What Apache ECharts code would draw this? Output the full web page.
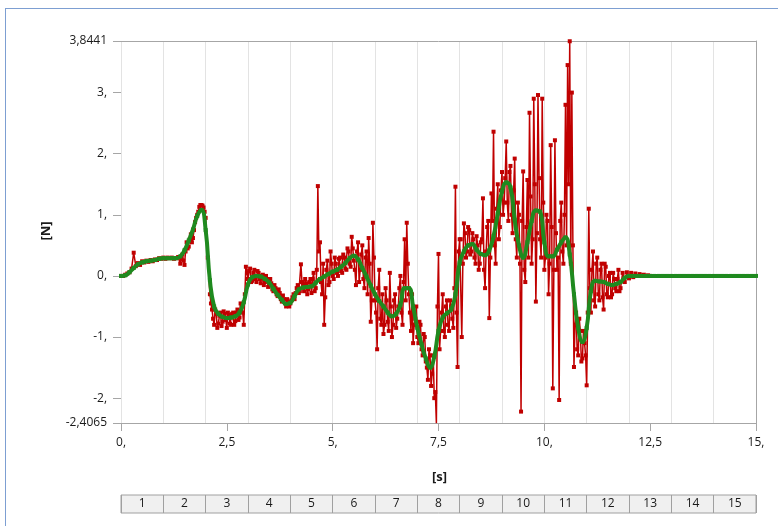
<!DOCTYPE html>
<html>
<head>
<meta charset="utf-8">
<script src="https://cdn.jsdelivr.net/npm/echarts@6/dist/echarts.min.js"></script>
<style>
html,body{margin:0;padding:0;background:#fff;}
#frame{position:absolute;left:5px;top:8px;width:800px;height:600px;border-left:1px solid #7d9fd2;border-top:1px solid #7d9fd2;}
#chart{position:absolute;left:0;top:0;width:778px;height:526px;}
</style>
</head>
<body>
<div id="frame"></div>
<div id="chart"></div>
<script>
// ---- data ----
const yTickValues = [-2.4065, -2, -1, 0, 1, 2, 3, 3.8441];
const xTickValues = [0, 2.5, 5, 7.5, 10, 12.5, 15];
const stepCells = ['1','2','3','4','5','6','7','8','9','10','11','12','13','14','15'];

// raw force [time s, force N]
const redPoints = [
[0.00,0.00],[0.05,0.00],[0.10,0.02],[0.15,0.04],[0.20,0.06],[0.25,0.12],[0.30,0.38],[0.35,0.16],[0.40,0.21],[0.45,0.18],
[0.50,0.24],[0.55,0.22],[0.60,0.25],[0.65,0.23],[0.70,0.26],[0.75,0.24],[0.80,0.27],[0.85,0.26],[0.90,0.29],[0.95,0.28],
[1.00,0.30],[1.05,0.28],[1.10,0.30],[1.15,0.29],[1.20,0.30],[1.25,0.28],[1.30,0.29],[1.35,0.31],[1.40,0.20],[1.45,0.35],
[1.50,0.18],[1.55,0.55],[1.60,0.48],[1.65,0.68],[1.70,0.62],[1.75,0.88],[1.80,1.00],[1.85,1.13],[1.90,1.16],[1.95,1.12],
[2.00,0.95],[2.05,0.30],[2.10,-0.30],[2.15,-0.55],[2.20,-0.80],[2.25,-0.62],[2.30,-0.78],[2.35,-0.60],[2.40,-0.75],[2.45,-0.62],
[2.50,-0.85],[2.55,-0.64],[2.60,-0.80],[2.65,-0.60],[2.70,-0.74],[2.75,-0.55],[2.80,-0.68],[2.85,-0.50],[2.90,-0.80],[2.95,0.15],
[3.00,-0.05],[3.05,0.12],[3.10,-0.08],[3.15,0.10],[3.20,-0.10],[3.25,0.05],[3.30,-0.12],[3.35,0.02],[3.40,-0.10],[3.45,-0.05],
[3.50,-0.15],[3.55,-0.12],[3.60,-0.25],[3.65,-0.20],[3.70,-0.33],[3.75,-0.28],[3.80,-0.42],[3.85,-0.38],[3.90,-0.50],[3.95,-0.42],
[4.00,-0.45],[4.05,-0.35],[4.10,-0.38],[4.15,-0.20],[4.20,-0.28],[4.25,0.19],[4.30,-0.15],[4.35,-0.05],[4.40,-0.30],[4.45,-0.10],
[4.50,-0.28],[4.55,0.05],[4.60,-0.20],[4.65,1.47],[4.70,0.55],[4.75,-0.30],[4.80,-0.80],[4.85,0.10],[4.90,-0.15],[4.95,0.40],
[5.00,0.00],[5.05,0.30],[5.10,0.05],[5.15,0.28],[5.20,0.08],[5.25,0.35],[5.30,0.12],[5.35,0.45],[5.40,0.20],[5.45,0.64],
[5.50,0.25],[5.55,-0.15],[5.60,0.55],[5.65,0.10],[5.70,0.50],[5.75,-0.20],[5.80,0.40],[5.85,0.62],[5.90,-0.75],[5.95,0.87],
[6.00,-0.40],[6.05,-1.20],[6.10,0.10],[6.15,-0.80],[6.20,-0.95],[6.25,-0.20],[6.30,-0.75],[6.35,0.05],[6.40,-1.00],[6.45,-0.40],
[6.50,-0.85],[6.55,-0.50],[6.60,0.00],[6.65,-0.80],[6.70,0.60],[6.75,0.87],[6.80,-0.30],[6.85,-0.90],[6.90,-1.10],[6.95,-0.70],
[7.00,-1.00],[7.05,-0.75],[7.10,-1.20],[7.15,-0.95],[7.20,-1.40],[7.25,-1.70],[7.30,-1.30],[7.35,-1.60],[7.40,-2.00],[7.45,-2.41],
[7.50,0.36],[7.55,-0.90],[7.60,-0.30],[7.65,-1.00],[7.70,-0.40],[7.75,-0.90],[7.80,-0.50],[7.85,-0.85],[7.90,1.46],[7.95,-1.49],
[8.00,0.60],[8.05,-1.00],[8.10,0.86],[8.15,0.30],[8.20,0.80],[8.25,0.35],[8.30,0.70],[8.35,0.30],[8.40,0.65],[8.45,0.10],
[8.50,0.55],[8.55,1.27],[8.60,-0.20],[8.65,0.80],[8.70,-0.69],[8.75,1.35],[8.80,2.36],[8.85,0.20],[8.90,1.50],[8.95,0.80],
[9.00,1.70],[9.05,1.20],[9.10,2.20],[9.15,0.90],[9.20,1.80],[9.25,0.70],[9.30,1.92],[9.35,0.30],[9.40,1.00],[9.45,-2.22],
[9.50,1.71],[9.55,-0.10],[9.60,1.57],[9.65,2.67],[9.70,0.20],[9.75,2.90],[9.80,-0.42],[9.85,2.96],[9.90,0.60],[9.95,2.90],
[10.00,0.10],[10.05,1.00],[10.10,-0.30],[10.15,2.14],[10.20,-1.84],[10.25,2.22],[10.30,0.10],[10.35,-2.03],[10.40,1.20],[10.45,0.20],
[10.50,2.80],[10.55,3.45],[10.60,3.84],[10.65,3.00],[10.70,-1.49],[10.75,-0.60],[10.80,-1.30],[10.85,-0.90],[10.90,-1.35],[10.95,-1.10],
[11.00,-1.79],[11.05,1.10],[11.10,-0.60],[11.15,0.40],[11.20,-0.50],[11.25,0.30],[11.30,-0.40],[11.35,0.20],[11.40,-0.55],[11.45,0.15],
[11.50,-0.35],[11.55,0.05],[11.60,-0.30],[11.65,-0.05],[11.70,-0.25],[11.75,0.10],[11.80,-0.20],[11.85,0.05],[11.90,-0.10],[11.95,0.06],
[12.00,-0.04],[12.05,0.05],[12.10,-0.02],[12.15,0.04],[12.20,0.00],[12.25,0.03],[12.30,0.01],[12.35,0.02],[12.40,0.00],[12.45,0.01],
[12.50,0.00]
];

// raw force, in-between samples [time s, force N]
const redPointsMid = [
[1.425,0.28],[1.475,0.25],[1.525,0.40],[1.575,0.45],[1.625,0.60],[1.675,0.55],[1.725,0.75],[1.775,0.95],[1.825,1.05],[1.875,1.16],
[1.925,1.15],[1.975,1.05],
[2.125,-0.45],[2.175,-0.70],[2.225,-0.55],[2.275,-0.85],[2.325,-0.65],[2.375,-0.82],[2.425,-0.58],[2.475,-0.72],[2.525,-0.60],[2.575,-0.78],
[2.625,-0.62],[2.675,-0.80],[2.725,-0.60],[2.775,-0.72],[2.825,-0.45],[2.875,-0.60],[2.925,-0.30],[2.975,0.05],
[3.025,0.08],[3.075,-0.10],[3.125,0.05],[3.175,-0.05],[3.225,0.08],[3.275,-0.05],[3.325,0.00],[3.375,-0.15],[3.425,0.00],[3.475,-0.18],
[3.525,-0.05],[3.575,-0.22],[3.625,-0.15],[3.675,-0.30],[3.725,-0.22],[3.775,-0.38],[3.825,-0.32],[3.875,-0.45],[3.925,-0.38],[3.975,-0.50],
[4.025,-0.40],[4.075,-0.30],[4.125,-0.28],[4.175,-0.15],[4.225,-0.25],[4.275,-0.10],[4.325,-0.25],[4.375,-0.12],[4.425,-0.22],[4.475,-0.05],
[4.525,-0.05],[4.575,-0.25],[4.625,0.10],[4.675,0.40],[4.725,-0.10],[4.775,0.20],[4.825,-0.35],[4.875,0.25],[4.925,-0.10],[4.975,0.20],
[5.025,-0.05],[5.075,0.20],[5.125,0.00],[5.175,0.30],[5.225,0.05],[5.275,0.30],[5.325,0.10],[5.375,0.40],[5.425,0.15],[5.475,0.45],
[5.525,0.10],[5.575,0.40],[5.625,-0.10],[5.675,0.35],[5.725,-0.05],[5.775,0.30],[5.825,-0.30],[5.875,0.20],[5.925,-0.40],[5.975,0.30],
[6.025,-0.60],[6.075,-0.20],[6.125,-0.70],[6.175,-0.30],[6.225,-0.80],[6.275,-0.40],[6.325,-0.90],[6.375,-0.50],[6.425,-0.80],[6.475,-0.30],
[6.525,-0.70],[6.575,-0.20],[6.625,-0.60],[6.675,-0.10],[6.725,-0.40],[6.775,0.20],[6.825,-0.60],[6.875,-0.30],[6.925,-0.80],[6.975,-0.50],
[7.025,-1.10],[7.075,-0.80],[7.125,-1.30],[7.175,-1.00],[7.225,-1.50],[7.275,-1.20],[7.325,-1.80],[7.375,-1.30],[7.425,-1.90],[7.475,-0.50],
[7.525,-1.20],[7.575,-0.60],[7.625,-0.90],[7.675,-0.50],[7.725,-0.80],[7.775,-0.40],[7.825,-0.70],[7.875,-0.20],[7.925,-0.60],[7.975,0.40],
[8.025,0.60],[8.075,0.20],[8.125,0.70],[8.175,0.40],[8.225,0.75],[8.275,0.40],[8.325,0.60],[8.375,0.20],[8.425,0.50],[8.475,0.20],
[8.525,0.60],[8.575,0.10],[8.625,0.40],[8.675,0.90],[8.725,0.30],[8.775,0.90],[8.825,0.50],[8.875,1.10],[8.925,0.60],[8.975,1.40],
[9.025,1.00],[9.075,1.60],[9.125,1.20],[9.175,1.70],[9.225,1.00],[9.275,1.40],[9.325,0.60],[9.375,1.20],[9.425,0.20],[9.475,0.90],
[9.525,0.10],[9.575,0.80],[9.625,0.30],[9.675,1.30],[9.725,0.60],[9.775,1.50],[9.825,0.70],[9.875,1.60],[9.925,0.30],[9.975,1.20],
[10.025,0.30],[10.075,0.90],[10.125,0.20],[10.175,0.80],[10.225,0.10],[10.275,0.70],[10.325,0.30],[10.375,0.90],[10.425,0.40],[10.475,1.00],
[10.525,0.50],[10.575,1.50],[10.625,0.20],[10.675,0.50],[10.725,-0.80],[10.775,-1.20],[10.825,-0.70],[10.875,-1.40],[10.925,-0.90],[10.975,-1.30],
[11.025,-0.60],[11.075,-0.20],[11.125,0.10],[11.175,-0.40],[11.225,0.20],[11.275,-0.30],[11.325,0.10],[11.375,-0.35],[11.425,0.20],[11.475,-0.30],
[11.525,0.00],[11.575,-0.35],[11.625,0.05],[11.675,-0.20],[11.725,-0.05],[11.775,-0.25]
];

// filtered force [time s, force N]
const greenPoints = [
[0.0,0.00],[0.1,0.01],[0.2,0.06],[0.3,0.13],[0.4,0.19],[0.5,0.22],[0.6,0.24],[0.7,0.25],[0.8,0.26],[0.9,0.28],
[1.0,0.29],[1.1,0.29],[1.2,0.29],[1.3,0.29],[1.4,0.32],[1.5,0.42],[1.6,0.58],[1.7,0.76],[1.8,0.98],[1.9,1.08],
[2.0,0.75],[2.1,-0.07],[2.2,-0.50],[2.3,-0.62],[2.4,-0.67],[2.5,-0.69],[2.6,-0.68],[2.7,-0.66],[2.8,-0.60],[2.9,-0.43],
[3.0,-0.14],[3.1,-0.02],[3.2,0.00],[3.3,-0.01],[3.4,-0.05],[3.5,-0.11],[3.6,-0.21],[3.7,-0.31],[3.8,-0.39],[3.9,-0.46],
[4.0,-0.44],[4.1,-0.33],[4.2,-0.22],[4.3,-0.19],[4.4,-0.18],[4.5,-0.17],[4.6,-0.11],[4.7,-0.05],[4.8,-0.01],[4.9,0.03],
[5.0,0.07],[5.1,0.10],[5.2,0.15],[5.3,0.21],[5.4,0.29],[5.5,0.33],[5.6,0.27],[5.7,0.13],[5.8,-0.01],[5.9,-0.16],
[6.0,-0.30],[6.1,-0.41],[6.2,-0.50],[6.3,-0.60],[6.4,-0.66],[6.5,-0.62],[6.6,-0.47],[6.7,-0.20],[6.8,-0.20],[6.9,-0.50],
[7.0,-0.85],[7.1,-1.12],[7.2,-1.35],[7.3,-1.50],[7.4,-1.32],[7.5,-0.90],[7.6,-0.68],[7.7,-0.61],[7.8,-0.55],[7.9,-0.30],
[8.0,0.22],[8.1,0.40],[8.2,0.50],[8.3,0.52],[8.4,0.43],[8.5,0.36],[8.6,0.34],[8.7,0.42],[8.8,0.65],[8.9,1.02],
[9.0,1.38],[9.1,1.53],[9.2,1.45],[9.3,0.92],[9.4,0.50],[9.5,0.30],[9.6,0.55],[9.7,0.90],[9.8,1.07],[9.9,1.05],
[10.0,0.55],[10.1,0.32],[10.2,0.32],[10.3,0.43],[10.4,0.55],[10.5,0.63],[10.6,0.35],[10.7,-0.30],[10.8,-0.85],[10.9,-1.08],
[11.0,-0.85],[11.1,-0.25],[11.2,-0.08],[11.3,-0.09],[11.4,-0.10],[11.5,-0.13],[11.6,-0.15],[11.7,-0.13],[11.8,-0.10],[11.9,-0.03],
[12.0,0.00],[12.1,0.00],[12.2,0.00],[12.3,0.00],[12.4,0.00],[12.5,0.00],[12.6,0.00],[12.7,0.00],[12.8,0.00],[12.9,0.00],
[13.0,0.00],[13.1,0.00],[13.2,0.00],[13.3,0.00],[13.4,0.00],[13.5,0.00],[13.6,0.00],[13.7,0.00],[13.8,0.00],[13.9,0.00],
[14.0,0.00],[14.1,0.00],[14.2,0.00],[14.3,0.00],[14.4,0.00],[14.5,0.00],[14.6,0.00],[14.7,0.00],[14.8,0.00],[14.9,0.00],
[15.0,0.00]
];

// ---- chart ----
const redAll = redPoints.concat(redPointsMid).sort(function(a,b){return a[0]-b[0];});
const FONT = '"Open Sans", "Noto Sans", sans-serif';
const TXT = '#1a1a1a';
const AXC = '#a6a6a6';
const GRIDC = '#e3e3e3';
function fmt(v){
  const r = Math.round(v*10000)/10000;
  let s = String(r).replace('.', ',');
  if (s.indexOf(',') < 0) s += ',';
  return s;
}

const chart = echarts.init(document.getElementById('chart'), null, {renderer:'canvas'});
chart.setOption({
  animation:false,
  backgroundColor:'transparent',
  textStyle:{fontFamily:FONT},
  grid:[
    {left:121, right:22, top:41, bottom:103, show:false},
    {left:121, right:22, top:495, height:18, show:true, backgroundColor:'#f0f0f0', borderColor:'#a0a0a0', borderWidth:1}
  ],
  xAxis:[
    {gridIndex:0, type:'value', min:0, max:15, interval:2.5, position:'bottom',
     axisLine:{show:true, onZero:false, lineStyle:{color:AXC, width:1}},
     axisTick:{show:true, length:8, lineStyle:{color:AXC}},
     axisLabel:{show:true, margin:14, fontSize:12, color:TXT, fontFamily:FONT, formatter:fmt,
       customValues: xTickValues},
     splitLine:{show:false}},
    {gridIndex:0, type:'value', min:0, max:15, interval:1, position:'top',
     axisLine:{show:true, onZero:false, lineStyle:{color:AXC, width:1}},
     axisTick:{show:false}, axisLabel:{show:false},
     splitLine:{show:true, lineStyle:{color:GRIDC, width:1}}},
    {gridIndex:1, type:'category', data:stepCells, position:'bottom', boundaryGap:true,
     axisLine:{show:false, onZero:false}, axisTick:{show:false},
     axisLabel:{inside:true, margin:3, fontSize:12, color:TXT, fontFamily:FONT, interval:0},
     splitLine:{show:true, interval:0, lineStyle:{color:'#a0a0a0', width:1}}}
  ],
  yAxis:[
    {gridIndex:0, type:'value', min:-2.4065, max:3.8441, position:'left',
     axisLine:{show:false, onZero:false},
     axisTick:{show:true, length:8, lineStyle:{color:AXC}, customValues:yTickValues},
     axisLabel:{show:true, margin:14, fontSize:12, color:TXT, fontFamily:FONT, formatter:fmt,
       customValues:yTickValues},
     splitLine:{show:false}},
    {gridIndex:0, type:'value', min:-2.4065, max:3.8441, position:'right',
     axisLine:{show:true, onZero:false, lineStyle:{color:AXC, width:1}},
     axisTick:{show:false}, axisLabel:{show:false}, splitLine:{show:false}},
    {gridIndex:1, type:'value', min:0, max:1, show:false}
  ],
  graphic:[
    {type:'text', left:432, top:471, style:{text:'[s]', font:'bold 13px '+FONT, fill:TXT}},
    {type:'text', x:46, y:231, rotation:Math.PI/2, style:{text:'[N]', font:'bold 13px '+FONT, fill:TXT, align:'center', verticalAlign:'middle'}}
  ],
  series:[
    {type:'line', xAxisIndex:0, yAxisIndex:0, data:redAll, symbol:'rect', symbolSize:4,
     lineStyle:{color:'#c00000', width:1.5}, itemStyle:{color:'#c00000'}, z:2},
    {type:'line', xAxisIndex:0, yAxisIndex:0, data:greenPoints, symbol:'rect', symbolSize:4, smooth:true,
     lineStyle:{color:'#1f8a1f', width:4}, itemStyle:{color:'#1f8a1f'}, z:3}
  ]
});
</script>
</body>
</html>
